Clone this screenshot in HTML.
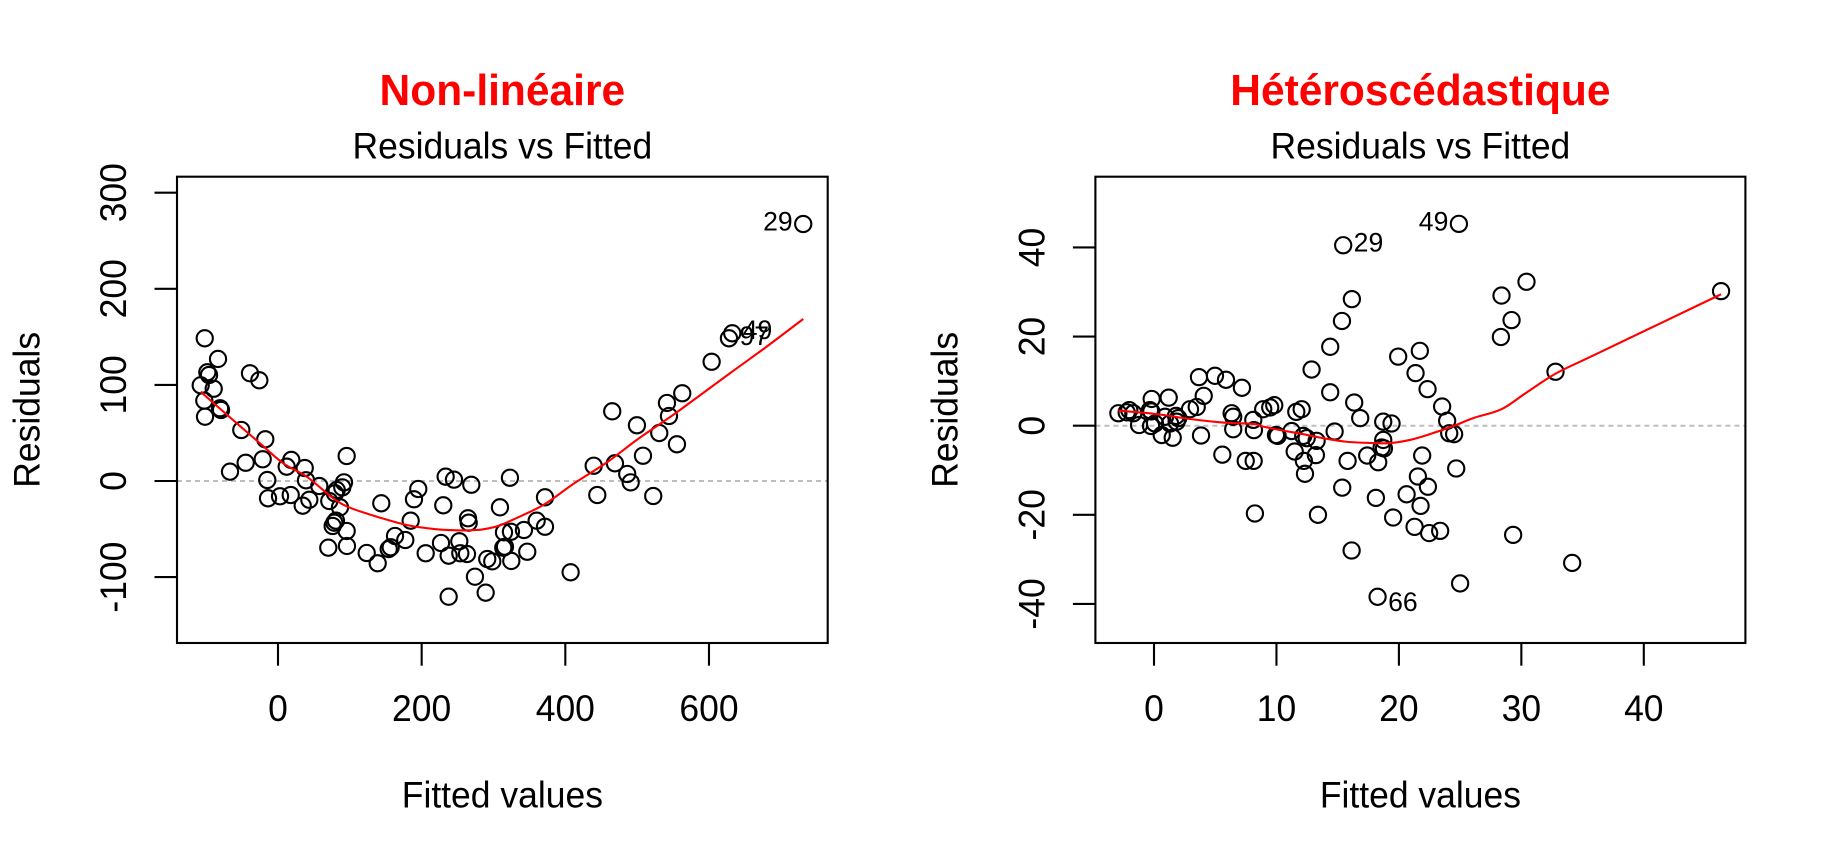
<!DOCTYPE html>
<html lang="fr">
<head>
<meta charset="utf-8">
<title>Residuals vs Fitted</title>
<style>
html,body{margin:0;padding:0;background:#fff;}
body{width:1836px;height:864px;overflow:hidden;}
svg{display:block;font-family:"Liberation Sans",Arial,sans-serif;}
</style>
</head>
<body>
<svg id="chart" xmlns="http://www.w3.org/2000/svg" width="1836" height="864" viewBox="0 0 1836 864">
<rect x="0" y="0" width="1836" height="864" fill="#ffffff"></rect>
</svg>
<script>
// ---- Left panel data ----
const leftXTicks = [0, 200, 400, 600];
const leftYTicks = [-100, 0, 100, 200, 300];
const leftFitted = [-102,-83.5,-98.4,-96,-107.6,-89.5,-39,-26,-102.6,-80.7,-79.3,-101.6,-51.1,-17.7,-66.8,-45,-21.3,18.5,12.1,37.2,-14.9,39,57.5,95.6,91.9,89.5,81.7,79.3,71.4,-13.9,2.8,17.7,34.4,43.6,86.3,143.8,80.7,78.4,76.1,95.6,96,70,123.5,138.8,162.9,177.2,156.9,154.1,184.7,189.3,195.3,230.1,233.4,245,269.1,264.5,265.5,226.9,205.6,237.6,252.4,253.8,263.1,291.3,298.3,274.2,237.6,289.1,322.9,309,314.6,324.3,342.4,360.1,371.7,371.7,313.6,316,347,324.8,407.4,439.5,469.1,444.5,486.2,491,522.4,508.1,499.7,465.3,530.8,555.4,544.3,541.5,562.8,603.7,627.8,632.4,731.2];
const leftResiduals = [148.5,127,113.1,110.3,99.6,96,112.1,104.8,83.6,75.7,73.9,66.9,53.1,43.4,9.7,19,22.6,21.9,14.9,13.5,1,0.7,-5.2,26,-1.4,-6.6,-9.4,-12.8,-20.8,-18,-15.9,-14.6,-25.7,-19.5,-27.4,-23.2,-41.3,-43.4,-46.8,-52,-67.6,-69.4,-74.9,-85.6,-57.2,-61.4,-69,-70.8,-41.3,-19,-8.3,-25.3,4.5,1.4,-3.9,-38.8,-43.4,-64.5,-75.2,-77.7,-62.7,-75.2,-76,-81.2,-83.6,-99.6,-120.4,-116.2,3.4,-27.4,-53.4,-52.8,-51,-41.3,-47.6,-17,-69.4,-68.4,-73.6,-83.2,-95,15.9,18.4,-14.6,7.3,-1.4,-15.6,26.3,58,72.5,49.9,38.2,67.6,81.2,91.3,124.1,148.5,153.7,267.4];
const leftSmoothX = [-107.6,-94.7,-52.9,-25.1,7.4,40,77,100.2,137.4,179.2,216.2,248.8,276.6,295,309,323,369.3,411,457.6,499.3,536.3,559.6,629.2,680.3,731.2];
const leftSmoothY = [92.9,84.3,57.2,39.2,18.4,4.5,-18,-27.8,-37.1,-45.8,-49.9,-51.3,-51,-49,-46.2,-41.6,-25,-3.1,19.2,42.7,61.7,73.9,112.1,139.8,168.6];
const leftLabelIds = ['97', '49', '29'];
const leftLabelPoints = [96, 97, 98];

// ---- Right panel data ----
const rightXTicks = [0, 10, 20, 30, 40];
const rightYTicks = [-40, -20, 0, 20, 40];
const rightFitted = [15.45,16.16,15.35,14.39,12.87,14.39,16.35,16.84,18.72,19.4,3.67,4.98,5.88,7.18,4.06,-0.19,1.2,2.94,3.49,6.34,6.47,8.11,8.92,9.49,9.82,11.62,12.06,-2.91,-2.23,-2.02,-1.69,-0.33,-0.22,0.9,1.8,1.98,-1.22,-0.24,0.08,0.63,1.53,1.31,1.85,3.84,6.47,8.16,5.58,7.49,8.14,8.24,13.39,9.96,10.1,11.24,12.19,12.47,13.28,11.49,12.24,13.22,12.33,14.75,15.81,17.41,15.37,18.12,16.14,18.26,18.72,18.59,18.78,18.31,21.9,21.55,22.37,20.63,21.77,19.53,21.28,22.47,23.37,24.68,24.11,24.51,23.94,23.53,29.33,34.15,25,24.9,21.71,19.94,21.36,22.34,28.38,30.42,29.2,28.33,32.79,46.31];
const rightResiduals = [40.5,28.4,23.5,17.7,12.6,7.5,5.2,1.7,0.9,0.5,10.9,11.2,10.3,8.5,6.7,6,6.3,3.7,4.2,2.8,2,1.3,3.7,4.1,4.6,3.1,3.7,2.8,3,3.5,2.8,3.5,3.2,2,2.2,1.7,0.15,-0.07,0.5,-2.1,-2.7,0.5,0.9,-2.2,-0.8,-1,-6.5,-7.9,-7.9,-19.7,-20,-2.1,-2.3,-1.2,-2.3,-2.8,-3.4,-5.8,-7.9,-6.6,-10.8,-1.3,-7.9,-6.7,-13.9,-16.2,-28,-38.4,-3.2,-4.9,-5.1,-8.2,-6.7,-11.4,-13.7,-15.4,-18,-20.6,-22.7,-24.1,-23.6,-9.6,-1.7,-1.9,1.1,4.3,-24.5,-30.8,-35.4,45.3,16.8,15.5,11.8,8.2,29.2,32.3,23.7,19.9,12.1,30.2];
const rightSmoothX = [-2.91,0.22,2.94,5.66,8.11,8.92,10.56,12.19,13.82,15.73,17.9,19.27,20.9,22.53,24.43,26.07,28.38,30.4,32.87,35.9,46.31];
const rightSmoothY = [3.4,2.6,1.5,0.7,0.4,-0.2,-1.1,-1.9,-2.8,-3.6,-3.9,-3.9,-3.2,-1.9,-0.1,1.7,3.7,7.4,11.8,15.8,29.5];
const rightLabelIds = ['29', '49', '66'];
const rightLabelPoints = [0, 89, 67];

// ---- Axis functions ----
function leftX(v) { return 278 + 0.7183 * v; }
function leftY(v) { return 481 - 0.961 * v; }
function rightX(v) { return 1154 + 12.245 * v; }
function rightY(v) { return 425.7 - 4.456 * v; }

const svg = document.getElementById('chart');
const NS = 'http://www.w3.org/2000/svg';
const LINE_W = 2.1;
const GLYPH_STRETCH = 1.035;
function make(tag, attrs, parent) {
  const n = document.createElementNS(NS, tag);
  for (const k in attrs) n.setAttribute(k, attrs[k]);
  parent.appendChild(n);
  return n;
}
function textAt(x, y, rotated) {
  return 'translate(' + x + ' ' + y + ')' + (rotated ? ' rotate(-90)' : '') + ' scale(1 ' + GLYPH_STRETCH + ')';
}
function smoothPath(xs, ys) {
  let d = 'M' + xs[0].toFixed(2) + ' ' + ys[0].toFixed(2);
  for (let i = 0; i < xs.length - 1; i++) {
    const a = Math.max(i - 1, 0), b = Math.min(i + 2, xs.length - 1);
    const c1x = xs[i] + (xs[i + 1] - xs[a]) / 6;
    const c1y = ys[i] + (ys[i + 1] - ys[a]) / 6;
    const c2x = xs[i + 1] - (xs[b] - xs[i]) / 6;
    const c2y = ys[i + 1] - (ys[b] - ys[i]) / 6;
    d += 'C' + c1x.toFixed(2) + ' ' + c1y.toFixed(2) + ' ' + c2x.toFixed(2) + ' ' + c2y.toFixed(2) + ' ' + xs[i + 1].toFixed(2) + ' ' + ys[i + 1].toFixed(2);
  }
  return d;
}

function drawPanel(p) {
  const g = make('g', {}, svg);
  
  
  const mid = (p.left + p.right) / 2;

  // zero reference line
  const zero = make('line', {x1: p.left, x2: p.right, y1: p.y(0), y2: p.y(0), stroke: '#bebebe', 'stroke-width': 2, 'stroke-dasharray': '5 4'}, g);
  
  

  // points
  for (let i = 0; i < p.fx.length; i++) {
    const c = make('circle', {cx: p.x(p.fx[i]), cy: p.y(p.fy[i]), r: 8.1, fill: 'none', stroke: '#000', 'stroke-width': LINE_W}, g);
    
    
  }

  // smoother
  const curve = make('path', {d: smoothPath(p.sx.map(p.x), p.sy.map(p.y)), fill: 'none', stroke: '#ff0000', 'stroke-width': LINE_W, 'stroke-linejoin': 'round'}, g);
  
  

  // plot box
  const box = make('rect', {x: p.left, y: p.top, width: p.right - p.left, height: p.bottom - p.top, fill: 'none', stroke: '#000', 'stroke-width': LINE_W}, g);
  
  

  // x ticks
  p.xticks.forEach(function (t) {
    const tick = make('line', {x1: p.x(t), x2: p.x(t), y1: p.bottom, y2: p.bottom + 22.7, stroke: '#000', 'stroke-width': LINE_W}, g);
    
    
    const lab = make('text', {transform: textAt(p.x(t), 721, false), 'text-anchor': 'middle', 'font-size': 35.5, fill: '#000'}, g);
    lab.textContent = String(t);
    
    
  });

  // y ticks
  p.yticks.forEach(function (t) {
    const tick = make('line', {x1: p.left - 22.5, x2: p.left, y1: p.y(t), y2: p.y(t), stroke: '#000', 'stroke-width': LINE_W}, g);
    
    
    const lab = make('text', {transform: textAt(p.left - 51, p.y(t), true), 'text-anchor': 'middle', 'font-size': 35.5, fill: '#000'}, g);
    lab.textContent = String(t);
    
    
  });

  // titles
  const title = make('text', {transform: textAt(mid, 105, false), 'text-anchor': 'middle', 'font-size': 42.5, 'font-weight': 'bold', fill: '#ff0000'}, g);
  title.textContent = p.title;
  
  

  const sub = make('text', {transform: textAt(mid, 158.3, false), 'text-anchor': 'middle', 'font-size': 35.5, fill: '#000'}, g);
  sub.textContent = 'Residuals vs Fitted';
  
  

  const xt = make('text', {transform: textAt(mid, 807.7, false), 'text-anchor': 'middle', 'font-size': 35.5, fill: '#000'}, g);
  xt.textContent = 'Fitted values';
  
  

  const yt = make('text', {transform: textAt(p.left - 137.7, (p.top + p.bottom) / 2, true), 'text-anchor': 'middle', 'font-size': 35.5, fill: '#000'}, g);
  yt.textContent = 'Residuals';
  
  

  // point id labels
  p.labelIds.forEach(function (id, i) {
    const k = p.labelPoints[i];
    const side = p.labelSide[i];
    const lab = make('text', {
      x: p.x(p.fx[k]) + side * 10.5,
      y: p.y(p.fy[k]) + p.labelDrop[i],
      'text-anchor': side > 0 ? 'start' : 'end',
      'font-size': 26.6,
      fill: '#000'
    }, g);
    lab.textContent = id;
    
    
  });
}

drawPanel({
  name: 'non-lineaire',
  title: 'Non-linéaire',
  left: 177, right: 827.7, top: 176.7, bottom: 643,
  x: leftX, y: leftY,
  xticks: leftXTicks, yticks: leftYTicks,
  fx: leftFitted, fy: leftResiduals,
  sx: leftSmoothX, sy: leftSmoothY,
  labelIds: leftLabelIds, labelPoints: leftLabelPoints,
  labelSide: [1, 1, -1], labelDrop: [6.7, 5.5, 6.7]
});

drawPanel({
  name: 'heteroscedastique',
  title: 'Hétéroscédastique',
  left: 1095.4, right: 1745.4, top: 176.7, bottom: 643,
  x: rightX, y: rightY,
  xticks: rightXTicks, yticks: rightYTicks,
  fx: rightFitted, fy: rightResiduals,
  sx: rightSmoothX, sy: rightSmoothY,
  labelIds: rightLabelIds, labelPoints: rightLabelPoints,
  labelSide: [1, -1, 1], labelDrop: [6.5, 6.8, 14.3]
});
</script>
</body>
</html>
